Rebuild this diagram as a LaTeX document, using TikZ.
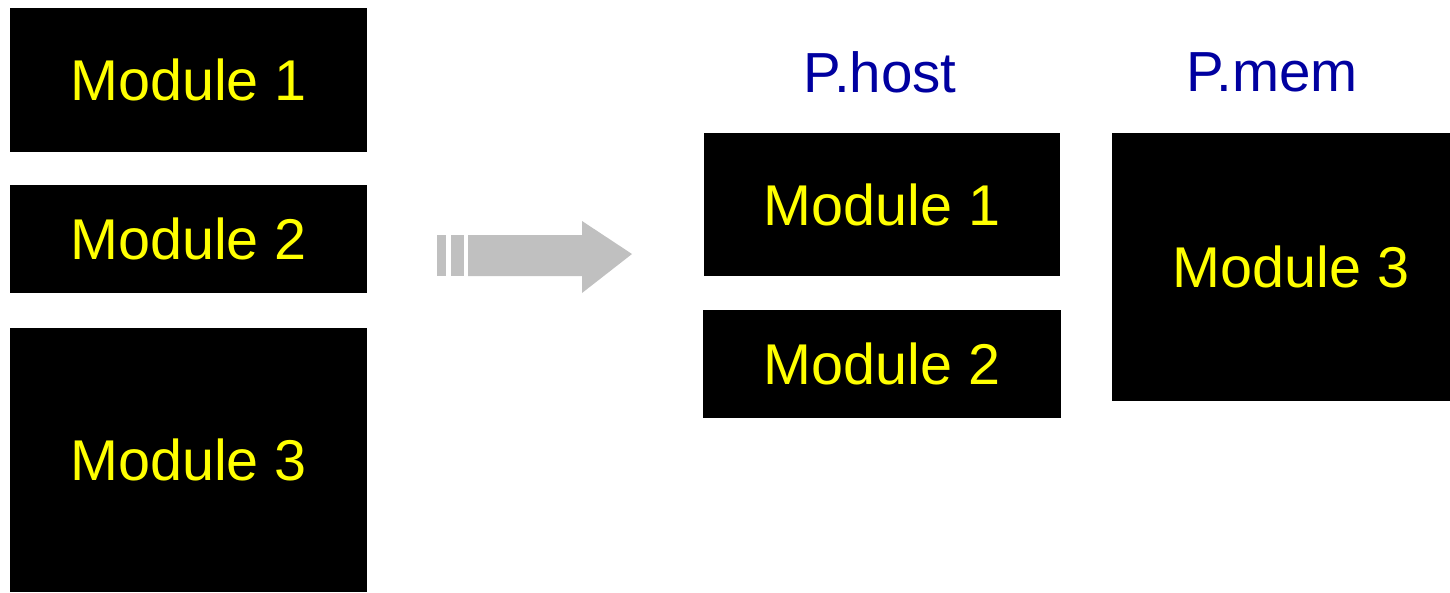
\documentclass[tikz,border=0pt]{standalone}
\usepackage{fontspec}
\setmainfont{Liberation Sans}
\definecolor{modyellow}{RGB}{255,255,0}
\definecolor{labelblue}{RGB}{0,0,160}
\definecolor{arrowgray}{RGB}{192,192,192}
\begin{document}
\begin{tikzpicture}[x=1pt,y=-1pt,
  modbox/.style={fill=black, draw=none, text=modyellow, inner sep=0pt,
    font=\fontsize{57.5}{60}\selectfont},
  plabel/.style={text=labelblue, inner sep=0pt, font=\fontsize{56.5}{60}\selectfont}]
\useasboundingbox (0,0) rectangle (1450,592);
% left column
\node[modbox, minimum width=357pt, minimum height=144pt] (l1) at (188.5,80) {Module 1};
\node[modbox, minimum width=357pt, minimum height=108pt] (l2) at (188.5,239) {Module 2};
\node[modbox, minimum width=357pt, minimum height=264pt] (l3) at (188.5,460) {Module 3};
% arrow
\fill[arrowgray] (437,235) rectangle (446,276);
\fill[arrowgray] (451,235) rectangle (464,276);
\fill[arrowgray] (468,235) -- (582,235) -- (582,221) -- (632,254) -- (582,293) -- (582,276) -- (468,276) -- cycle;
% right
\node[plabel] (ph) at (880,72) {P.host};
\node[plabel] (pm) at (1272,72) {P.mem};
\node[modbox, minimum width=356pt, minimum height=143pt] (r1) at (882,204.5) {Module 1};
\node[modbox, minimum width=358pt, minimum height=108pt] (r2) at (882,364) {Module 2};
\node[modbox, minimum width=338pt, minimum height=268pt] (r3) at (1281,267) {\hspace*{20pt}Module 3};
\end{tikzpicture}
\end{document}
